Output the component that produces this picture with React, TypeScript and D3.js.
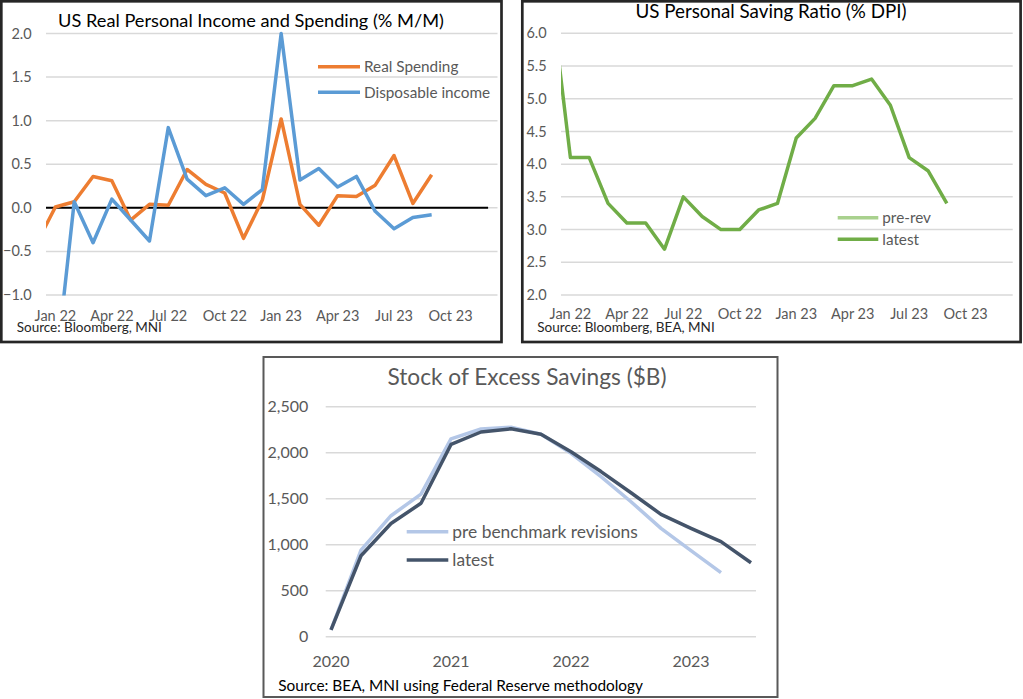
import React, { useEffect, useRef } from "react";
import * as d3 from "d3";

// monthly series, Dec 21 .. Sep 23 (index -1 = Dec 21, 0 = Jan 22)
const realSpending = [-0.41, 0.01, 0.07, 0.36, 0.31, -0.14, 0.04, 0.03, 0.44, 0.27, 0.17, -0.35, 0.09, 1.02, 0.04, -0.2, 0.14, 0.13, 0.26, 0.6, 0.05, 0.38];
const dispIncome = [null, -1.9, 0.07, -0.4, 0.1, -0.14, -0.38, 0.92, 0.33, 0.14, 0.23, 0.04, 0.21, 2.0, 0.32, 0.45, 0.24, 0.36, -0.04, -0.24, -0.11, -0.08];
const savingRatio = [6.5, 4.1, 4.1, 3.4, 3.1, 3.1, 2.7, 3.5, 3.2, 3.0, 3.0, 3.3, 3.4, 4.4, 4.7, 5.2, 5.2, 5.3, 4.9, 4.1, 3.9, 3.4];
const monthTicks = ["Jan 22", "Apr 22", "Jul 22", "Oct 22", "Jan 23", "Apr 23", "Jul 23", "Oct 23"];

// quarterly, 2020 Q1 .. 2023 Q3
const excessLatest = [75, 880, 1230, 1450, 2090, 2225, 2260, 2200, 2010, 1795, 1565, 1330, 1178, 1033, 804];
const excessPreRev = [75, 942, 1315, 1550, 2150, 2258, 2276, 2200, 1993, 1740, 1467, 1178, 935, 696];
const yearTicks = ["2020", "2021", "2022", "2023"];

const incomeTicks = [-1.0, -0.5, 0.0, 0.5, 1.0, 1.5, 2.0];
const savingTicks = [2.0, 2.5, 3.0, 3.5, 4.0, 4.5, 5.0, 5.5, 6.0];
const excessTicks = [0, 500, 1000, 1500, 2000, 2500];

const FONT = "Lato, 'Open Sans', sans-serif";
const GREY = "#595959";
const GRID = "#D9D9D9";

const App: React.FC = () => {
  const svgRef = useRef<SVGSVGElement | null>(null);

  useEffect(() => {
    if (!svgRef.current) return;
    const svg = d3.select(svgRef.current);
    svg.selectAll("*").remove();
    const defs = svg.append("defs");

    const clip = (id: string, x0: number, x1: number, y0: number, y1: number) => {
      defs.append("clipPath").attr("id", id).append("rect")
        .attr("x", x0).attr("y", y0).attr("width", x1 - x0).attr("height", y1 - y0);
    };

    const legend = (g: any, x0: number, x1: number, items: { y: number; color: string; label: string }[], size: number) => {
      items.forEach((it) => {
        g.append("line").attr("x1", x0).attr("x2", x1).attr("y1", it.y).attr("y2", it.y)
          .attr("stroke", it.color).attr("stroke-width", 3.5);
        g.append("text").attr("x", x1 + 4).attr("y", it.y).attr("dy", "0.35em")
          .attr("font-size", size).attr("fill", GREY).text(it.label);
      });
    };

    const gridAndY = (g: any, y: any, ticks: number[], x0: number, x1: number, labelX: number, fmt: (v: number) => string, size: number) => {
      g.append("g").selectAll("line").data(ticks).join("line")
        .attr("x1", x0).attr("x2", x1)
        .attr("y1", (d: number) => y(d)).attr("y2", (d: number) => y(d))
        .attr("stroke", GRID).attr("stroke-width", 1.5);
      g.append("g").selectAll("text").data(ticks).join("text")
        .attr("x", labelX).attr("y", (d: number) => y(d)).attr("dy", "0.35em")
        .attr("text-anchor", "end").attr("font-size", size).attr("fill", GREY)
        .text(fmt);
    };

    // ---------- panel 1: real income & spending ----------
    {
      const g = svg.append("g").attr("font-family", FONT);
      g.append("rect").attr("x", 1.3).attr("y", 1.3).attr("width", 500.2).attr("height", 340.7)
        .attr("fill", "white").attr("stroke", "#262626").attr("stroke-width", 2.7);
      const x = d3.scaleLinear().domain([-0.5, 23.5]).range([46, 497.5]);
      const y = d3.scaleLinear().domain([-1, 2]).range([295, 33.5]);
      gridAndY(g, y, incomeTicks, 46, 497.5, 31.7, (d) => d3.format(".1f")(d), 14.5);
      g.append("line").attr("x1", x(-0.5)).attr("x2", x(23)).attr("y1", y(0)).attr("y2", y(0))
        .attr("stroke", "black").attr("stroke-width", 2);
      clip("clip1", 46, 497.5, 30, 295.5);
      const line = d3.line<number | null>()
        .defined((d) => d !== null)
        .x((_, i) => x(i - 1))
        .y((d) => y(d as number));
      g.append("path").datum(realSpending).attr("d", line as any).attr("fill", "none")
        .attr("stroke", "#ED7D31").attr("stroke-width", 3.5).attr("stroke-linejoin", "round")
        .attr("clip-path", "url(#clip1)");
      g.append("path").datum(dispIncome).attr("d", line as any).attr("fill", "none")
        .attr("stroke", "#5B9BD5").attr("stroke-width", 3.5).attr("stroke-linejoin", "round")
        .attr("clip-path", "url(#clip1)");
      g.append("g").selectAll("text").data(monthTicks).join("text")
        .attr("x", (_, i) => x(i * 3)).attr("y", 320.5).attr("text-anchor", "middle")
        .attr("font-size", 14.5).attr("fill", GREY).text((d) => d);
      g.append("text").attr("x", 251).attr("y", 27.3).attr("text-anchor", "middle")
        .attr("font-size", 18.2).attr("fill", "black").text("US Real Personal Income and Spending (% M/M)");
      g.append("text").attr("x", 16.7).attr("y", 332).attr("font-size", 13.5).attr("fill", "#262626")
        .text("Source: Bloomberg, MNI");
      legend(g, 318, 360, [
        { y: 66.7, color: "#ED7D31", label: "Real Spending" },
        { y: 92.3, color: "#5B9BD5", label: "Disposable income" },
      ], 15.3);
    }

    // ---------- panel 2: saving ratio ----------
    {
      const g = svg.append("g").attr("font-family", FONT);
      g.append("rect").attr("x", 522.3).attr("y", 1.3).attr("width", 498.3).attr("height", 340.7)
        .attr("fill", "white").attr("stroke", "#262626").attr("stroke-width", 2.7);
      const x = d3.scaleLinear().domain([-0.5, 23.5]).range([561, 1012.7]);
      const y = d3.scaleLinear().domain([2, 6]).range([295, 33.3]);
      gridAndY(g, y, savingTicks, 561, 1012.7, 546.7, (d) => d3.format(".1f")(d), 14.5);
      clip("clip2", 561, 1012.7, 30, 296);
      const line = d3.line<number>().x((_, i) => x(i - 1)).y((d) => y(d));
      g.append("path").datum(savingRatio).attr("d", line).attr("fill", "none")
        .attr("stroke", "#70AD47").attr("stroke-width", 3.5).attr("stroke-linejoin", "round")
        .attr("clip-path", "url(#clip2)");
      g.append("g").selectAll("text").data(monthTicks).join("text")
        .attr("x", (_, i) => x(i * 3)).attr("y", 319).attr("text-anchor", "middle")
        .attr("font-size", 14.5).attr("fill", GREY).text((d) => d);
      g.append("text").attr("x", 771).attr("y", 17.8).attr("text-anchor", "middle")
        .attr("font-size", 18.8).attr("fill", "black").text("US Personal Saving Ratio (% DPI)");
      g.append("text").attr("x", 537.3).attr("y", 332.3).attr("font-size", 13.5).attr("fill", "#262626")
        .text("Source: Bloomberg, BEA, MNI");
      legend(g, 837.7, 878.3, [
        { y: 217.7, color: "#A9D18E", label: "pre-rev" },
        { y: 239.3, color: "#70AD47", label: "latest" },
      ], 15.3);
    }

    // ---------- panel 3: excess savings ----------
    {
      const g = svg.append("g").attr("font-family", FONT);
      g.append("rect").attr("x", 263.5).attr("y", 357).attr("width", 514).attr("height", 340)
        .attr("fill", "white").attr("stroke", GREY).attr("stroke-width", 2);
      const x = d3.scaleLinear().domain([0, 14]).range([331, 751]);
      const y = d3.scaleLinear().domain([0, 2500]).range([636.7, 406.7]);
      gridAndY(g, y, excessTicks, 325.7, 756, 308.3, d3.format(","), 16);
      const line = d3.line<number>().x((_, i) => x(i)).y((d) => y(d));
      g.append("path").datum(excessPreRev).attr("d", line).attr("fill", "none")
        .attr("stroke", "#B4C7E7").attr("stroke-width", 3.5).attr("stroke-linejoin", "round");
      g.append("path").datum(excessLatest).attr("d", line).attr("fill", "none")
        .attr("stroke", "#44546A").attr("stroke-width", 3.5).attr("stroke-linejoin", "round");
      g.append("g").selectAll("text").data(yearTicks).join("text")
        .attr("x", (_, i) => x(i * 4)).attr("y", 666.7).attr("text-anchor", "middle")
        .attr("font-size", 16).attr("fill", GREY).text((d) => d);
      g.append("text").attr("x", 527).attr("y", 384.5).attr("text-anchor", "middle")
        .attr("font-size", 22.7).attr("fill", GREY).text("Stock of Excess Savings ($B)");
      g.append("text").attr("x", 278.3).attr("y", 690.7).attr("font-size", 15.4).attr("fill", "black")
        .text("Source: BEA, MNI using Federal Reserve methodology");
      legend(g, 406.7, 448.3, [
        { y: 531.7, color: "#B4C7E7", label: "pre benchmark revisions" },
        { y: 560, color: "#44546A", label: "latest" },
      ], 17.4);
    }
  }, []);

  return (
    <svg ref={svgRef} width={1023} height={699}
      style={{ position: "absolute", left: 0, top: 0, background: "white" }} />
  );
};

export default App;
